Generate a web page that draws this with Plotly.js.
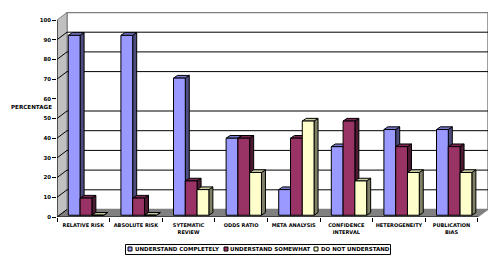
<!DOCTYPE html>
<html><head><meta charset="utf-8">
<script src="https://cdn.plot.ly/plotly-3.0.1.min.js"></script>
<style>html,body{margin:0;padding:0;background:#fff}</style></head>
<body><div id="chart" style="width:500px;height:265px"></div>
<script>
const categories = ["RELATIVE RISK","ABSOLUTE RISK","SYTEMATIC<br>REVIEW","ODDS RATIO","META ANALYSIS","CONFIDENCE<br>INTERVAL","HETEROGENEITY","PUBLICATION<br>BIAS"];
const understandCompletely = [91.3,91.3,69.6,39.1,13,34.8,43.5,43.5];
const understandSomewhat = [8.7,8.7,17.4,39.1,39.1,47.8,34.8,34.8];
const doNotUnderstand = [0,0,13,21.7,47.8,17.4,21.7,21.7];
const seriesNames = ["UNDERSTAND COMPLETELY","UNDERSTAND SOMEWHAT","DO NOT UNDERSTAND"];
const frontColors = ["#9999FF","#993366","#FFFFCC"];
const topColors = ["#7A7ACC","#7A2952","#CCCCA3"];
const sideColors = ["#4D4D80","#4D1A33","#808066"];
const yTicks = [0,10,20,30,40,50,60,70,80,90,100];
const gridValues = [0,10,20,30,40,50,70,80,90,100];
const seriesValues = [understandCompletely,understandSomewhat,doNotUnderstand];

const W=500,H=265,L=57,R=488,T=12,B=217;
const catPx=52.6, unitPx=1.97;
const xMin=-0.5, xEnd=categories.length-0.5, xMax=xMin+(R-L)/catPx;
const yMax=(B-T)/unitPx, y2Lo=-0.9;
const dx=10/catPx, dy=7.5/unitPx;          // wall depth
const bdx=4/catPx, bdy=2.7/unitPx;         // bar depth
const barW=0.224, offsets=[-0.285,-0.061,0.163];

function poly(pts,fill,color,width,yref){
  return {type:'path',xref:'x',yref:yref||'y',layer:'below',
    path:'M'+pts.map(p=>p[0]+','+p[1]).join('L')+'Z',
    fillcolor:fill,line:{color:color,width:width}};
}
function seg(x0,y0,x1,y1,color,width){
  return {type:'line',xref:'x',yref:'y',layer:'below',x0,y0,x1,y1,line:{color,width}};
}
const shapes=[];
shapes.push(poly([[xMin+dx,dy],[xMax,dy],[xMax,100+dy],[xMin+dx,100+dy]],'#FFFFFF','#808080',1.5));
shapes.push(poly([[xMin,0],[xMin,100],[xMin+dx,100+dy],[xMin+dx,dy]],'#C0C0C0','#808080',1));
shapes.push(poly([[xMin,0],[xEnd,0],[xMax,dy],[xMin+dx,dy]],'#808080','#808080',1));
gridValues.forEach(v=>{
  if(v>0&&v<100) shapes.push(seg(xMin+dx,v+dy,xMax,v+dy,'#000000',1));
  if(v<100) shapes.push(seg(xMin,v,xMin+dx,v+dy,'#000000',1));
});
shapes.push(seg(xMin,0,xEnd,0,'#000000',1));
shapes.push(seg(xMin,0,xMin,100,'#000000',1));
categories.forEach((c,i)=>{
  seriesValues.forEach((vals,s)=>{
    const v=vals[i], x0=i+offsets[s], x1=x0+barW;
    shapes.push(poly([[x1,0],[x1+bdx,bdy],[x1+bdx,v+bdy],[x1,v]],sideColors[s],'#000000',1,'y2'));
    shapes.push(poly([[x0,v],[x1,v],[x1+bdx,v+bdy],[x0+bdx,v+bdy]],topColors[s],'#000000',1,'y2'));
  });
});
const fontFam='"DejaVu Sans", sans-serif';
const traces=seriesValues.map((vals,s)=>({
  type:'bar',name:seriesNames[s],x:categories.map((c,i)=>i),y:vals,
  yaxis:'y2',width:barW,offset:offsets[s],
  marker:{color:frontColors[s],line:{color:'#000000',width:1}},
  hoverinfo:'skip',showlegend:false,cliponaxis:false
}));
const px=x=>(x-L)/(R-L), py=y=>(B-y)/(B-T);
const legY=249;
const legendText=[134,229,320], legendSwatch=[128,224,314];
shapes.push({type:'rect',xref:'paper',yref:'paper',x0:px(125.5),x1:px(390.5),y0:py(254.5),y1:py(244.5),line:{color:'#000',width:1},fillcolor:'#fff',layer:'above'});
const annotations=[];
seriesNames.forEach((n,s)=>{
  shapes.push({type:'rect',xref:'paper',yref:'paper',x0:px(legendSwatch[s]),x1:px(legendSwatch[s]+4),y0:py(legY+2),y1:py(legY-2),line:{color:'#000',width:1},fillcolor:frontColors[s],layer:'above'});
  annotations.push({xref:'paper',yref:'paper',x:px(legendText[s]),y:py(legY),xanchor:'left',yanchor:'middle',text:n,showarrow:false,borderpad:0,font:{family:fontFam,size:5.5,weight:700,color:'#000'}});
});
annotations.push({xref:'paper',yref:'paper',x:px(53),y:py(106.5),xanchor:'right',yanchor:'middle',text:'PERCENTAGE',showarrow:false,borderpad:0,font:{family:fontFam,size:5.6,weight:700,color:'#000'}});

Plotly.newPlot('chart',traces,{
  width:W,height:H,margin:{l:L,r:W-R,t:T,b:H-B,pad:0},
  paper_bgcolor:'#fff',plot_bgcolor:'#fff',showlegend:false,
  xaxis:{type:'linear',range:[xMin,xMax],tickmode:'array',tickvals:categories.map((c,i)=>i),ticktext:categories,
    ticks:'',showgrid:false,zeroline:false,showline:false,ticklabelstandoff:4,
    tickfont:{family:fontFam,size:5,weight:700,color:'#000'},tickangle:0,automargin:false,
    minor:{tickmode:'array',tickvals:categories.map((c,i)=>i-0.5).concat([xEnd]),ticks:'outside',ticklen:4,tickwidth:1,tickcolor:'#000',showgrid:false}},
  yaxis:{range:[0,yMax],tickmode:'array',tickvals:yTicks,ticks:'outside',ticklen:4,tickwidth:1,tickcolor:'#000',
    showgrid:false,zeroline:false,showline:false,tickfont:{family:fontFam,size:5.4,weight:700,color:'#000'},automargin:false},
  yaxis2:{range:[y2Lo,y2Lo+yMax],overlaying:'y',visible:false},
  barmode:'overlay',shapes,annotations
},{staticPlot:true,displayModeBar:false});
</script></body></html>
